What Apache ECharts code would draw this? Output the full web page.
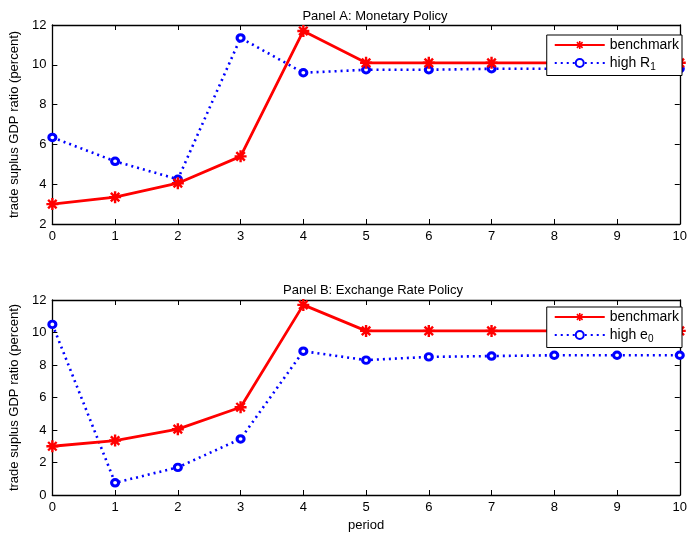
<!DOCTYPE html>
<html><head><meta charset="utf-8">
<script src="https://cdn.jsdelivr.net/npm/echarts@6/dist/echarts.min.js"></script>
<style>html,body{margin:0;padding:0;background:#fff}#c{width:690px;height:533px}</style>
</head><body><div id="c"></div>
<script>
var periods = [0,1,2,3,4,5,6,7,8,9,10];
var benchmark = [3.0, 3.35, 4.05, 5.4, 11.7, 10.1, 10.1, 10.1, 10.1, 10.1, 10.1];
var highR1 = [6.35, 5.15, 4.25, 11.35, 9.6, 9.75, 9.75, 9.8, 9.8, 9.8, 9.8];
var highE0 = [10.5, 0.75, 1.7, 3.45, 8.85, 8.3, 8.5, 8.55, 8.6, 8.6, 8.6];
var titleA = 'Panel A: Monetary Policy';
var titleB = 'Panel B: Exchange Rate Policy';
var yName = 'trade suplus GDP ratio (percent)';
var xName = 'period';

var FONT = 'Liberation Sans, Arial, sans-serif';
var star = 'path://M-2,-10 L2,-10 L2,10 L-2,10 Z M-10,-2 L10,-2 L10,2 L-10,2 Z M-8.49,-5.66 L-5.66,-8.49 L8.49,5.66 L5.66,8.49 Z M5.66,-8.49 L8.49,-5.66 L-5.66,8.49 L-8.49,5.66 Z';

function pairs(ys){ return periods.map(function(x,i){ return [x, ys[i]]; }); }

var grids = [
  {left:51, right:8, top:25, height:199},
  {left:51, right:8, top:300, height:197}
];
function xAxes(gi, showName){
  var base = {type:'value', gridIndex:gi, min:0, max:10, interval:1,
    axisLine:{show:true, onZero:false, lineStyle:{color:'#000', width:1.3}},
    axisTick:{show:true, inside:true, length:5, lineStyle:{color:'#000'}},
    splitLine:{show:false}};
  var bottom = Object.assign({}, base, {position:'bottom',
    axisLabel:{color:'#000', fontFamily:FONT, fontSize:13, margin:6},
    name: showName ? xName : '', nameLocation:'middle', nameGap:24,
    nameTextStyle:{color:'#000', fontFamily:FONT, fontSize:13}});
  var top = Object.assign({}, base, {position:'top', axisLabel:{show:false}});
  return [bottom, top];
}
function yAxes(gi, min){
  var base = {type:'value', gridIndex:gi, min:min, max:12, interval:2,
    axisLine:{show:true, onZero:false, lineStyle:{color:'#000', width:1.3}},
    axisTick:{show:true, inside:true, length:5, lineStyle:{color:'#000'}},
    splitLine:{show:false}};
  var left = Object.assign({}, base, {position:'left',
    axisLabel:{color:'#000', fontFamily:FONT, fontSize:13, margin:6},
    name:yName, nameLocation:'middle', nameGap:30,
    nameTextStyle:{color:'#000', fontFamily:FONT, fontSize:13}});
  var right = Object.assign({}, base, {position:'right', axisLabel:{show:false}});
  return [left, right];
}
var xs = xAxes(0,false).concat(xAxes(1,true));
var ys = yAxes(0,2).concat(yAxes(1,0));

function benchSeries(xi, yi, name){
  return {type:'line', name:name, xAxisIndex:xi, yAxisIndex:yi, data:pairs(benchmark),
    symbol:star, symbolSize:12, showAllSymbol:true,
    lineStyle:{color:'#ff0000', width:2.8}, itemStyle:{color:'#ff0000'}, z:3};
}
function highSeries(xi, yi, name, ys_){
  return {type:'line', name:name, xAxisIndex:xi, yAxisIndex:yi, data:pairs(ys_),
    symbol:'circle', symbolSize:[7,6.5], showAllSymbol:true,
    lineStyle:{color:'#0000ff', width:2.6, type:[2,4]},
    itemStyle:{color:'#ffffff', borderColor:'#0000ff', borderWidth:3}, z:2};
}

var legendBase = {orient:'vertical', right:8, itemWidth:50, itemHeight:10, itemGap:4,
  backgroundColor:'#fff', borderColor:'#000', borderWidth:1, padding:[3,3,3,7], borderRadius:0,
  textStyle:{color:'#000', fontFamily:FONT, fontSize:14,
    rich:{sub:{fontSize:10, fontFamily:FONT, color:'#000', padding:[9,0,0,0]}}},
  formatter:function(n){ if(n==='high R1') return 'high R{sub|1}'; if(n==='high e0') return 'high e{sub|0}'; return n.trim(); }
};

var option = {
  animation:false,
  backgroundColor:'#fff',
  title:[
    {text:titleA, left:370, textAlign:'center', top:5, textStyle:{fontFamily:FONT, fontSize:13, fontWeight:'normal', color:'#000'}},
    {text:titleB, left:368, textAlign:'center', top:279, textStyle:{fontFamily:FONT, fontSize:13, fontWeight:'normal', color:'#000'}}
  ],
  grid:grids,
  xAxis:xs,
  yAxis:ys,
  legend:[
    Object.assign({}, legendBase, {top:35, data:['benchmark','high R1']}),
    Object.assign({}, legendBase, {top:307, data:['benchmark ','high e0']})
  ],
  series:[
    benchSeries(0,0,'benchmark'),
    highSeries(0,0,'high R1', highR1),
    benchSeries(2,2,'benchmark '),
    highSeries(2,2,'high e0', highE0)
  ]
};
var chart = echarts.init(document.getElementById('c'), null, {renderer:'canvas'});
chart.setOption(option);
</script></body></html>
